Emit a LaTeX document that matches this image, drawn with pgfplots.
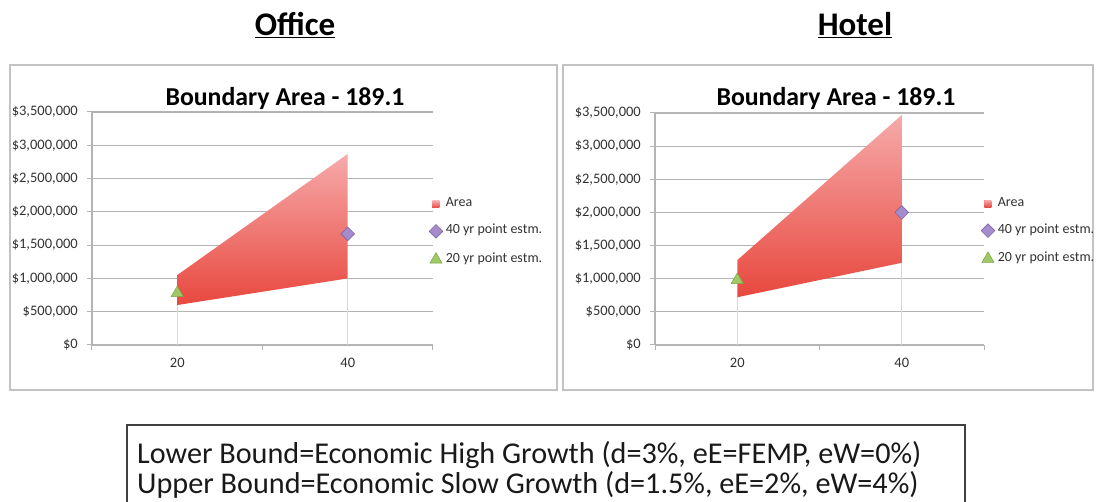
\documentclass[border=0pt]{standalone}
\usepackage{pgfplots}
\pgfplotsset{compat=1.18}
\usepackage{fontspec}
\setmainfont{Carlito}
\definecolor{gridc}{RGB}{180,180,180}
\definecolor{framec}{RGB}{195,195,195}
\definecolor{dropc}{RGB}{215,215,215}
\definecolor{areatop}{RGB}{246,170,170}
\definecolor{areabot}{RGB}{232,72,62}
\definecolor{purp}{RGB}{165,140,205}
\definecolor{purpd}{RGB}{128,100,162}
\definecolor{grn}{RGB}{160,200,100}
\definecolor{grnd}{RGB}{120,165,70}
\definecolor{txt}{RGB}{50,50,50}
\pgfplotsset{
  bac/.style={
    scale only axis,
    xmin=10, xmax=50, ymin=0, ymax=3500000,
    xtick={20,40}, xticklabels={20,40},
    minor xtick={10,30,50},
    ytick={0,500000,1000000,1500000,2000000,2500000,3000000,3500000},
    yticklabels={{\$0},{\$500,000},{\$1,000,000},{\$1,500,000},{\$2,000,000},{\$2,500,000},{\$3,000,000},{\$3,500,000}},
    scaled y ticks=false,
    axis x line*=bottom, axis y line*=left,
    axis line style={gridc, line width=1.2pt, -},
    tick align=outside,
    major x tick style={draw=none},
    minor x tick style={gridc, line width=1pt},
    major y tick style={gridc, line width=1pt},
    major tick length=5pt, minor tick length=5pt,
    ymajorgrids,
    major grid style={gridc, line width=1.2pt},
    tick label style={font=\fontsize{14.5}{14.5}\selectfont, text=txt},
    yticklabel style={inner sep=0pt, xshift=-9pt},
    xticklabel style={inner sep=0pt, yshift=-8pt},
    legend style={draw=none, fill=none, font=\fontsize{14}{14}\selectfont, text=txt,
      row sep=14.5pt, inner sep=0pt,
      nodes={inner sep=1pt, text height=0.72em, text depth=0.22em},
      /tikz/every odd column/.append style={column sep=2pt}},
    legend cell align=left,
    legend image code/.code={\draw[##1] plot coordinates {(0pt,0pt)};},
  },
  areast/.style={draw=none, top color=areatop, bottom color=areabot,
    legend image code/.code={\fill[areabot!90!white] (-3.5pt,-3.5pt) rectangle (3.5pt,3.5pt);}},
  diast/.style={only marks, mark=square*, mark size=4.8pt, mark options={rotate=45, fill=purp, draw=purpd, line width=0.6pt}},
  trist/.style={only marks, mark=triangle*, mark size=7pt, mark options={fill=grn, draw=grnd, line width=0.5pt}},
}
\begin{document}
\begin{tikzpicture}
% frames
\draw[framec, line width=1.5pt] (10pt,112pt) rectangle (557pt,437pt);
\draw[framec, line width=1.5pt] (563pt,112pt) rectangle (1093pt,437pt);
% headers
\node[font=\fontsize{33}{33}\selectfont\bfseries] at (295pt,477pt) {\underline{Office}};
\node[font=\fontsize{33}{33}\selectfont\bfseries] at (855pt,477pt) {\underline{Hotel}};
% titles
\node[font=\fontsize{25.8}{25.8}\selectfont\bfseries] at (285pt,404pt) {Boundary Area - 189.1};
\node[font=\fontsize{25.8}{25.8}\selectfont\bfseries] at (836pt,404pt) {Boundary Area - 189.1};

\begin{axis}[bac, at={(92pt,157pt)}, anchor=south west, width=341pt, height=233pt,
  legend style={at={(1,0.485)}, anchor=west, xshift=-4pt}]
\addplot[dropc, line width=0.6pt, forget plot] coordinates {(20,0) (20,600000)};
\addplot[dropc, line width=0.6pt, forget plot] coordinates {(40,0) (40,1000000)};
\addplot[areast] coordinates {(20,600000) (40,1000000) (40,2870000) (20,1050000)} -- cycle;
\addplot[diast] coordinates {(40,1670000)};
\addplot[trist] coordinates {(20,780000)};
\legend{Area,40 yr point estm.,20 yr point estm.}
\end{axis}

\begin{axis}[bac, at={(655pt,157pt)}, anchor=south west, width=329pt, height=232pt,
  legend style={at={(1,0.49)}, anchor=west, xshift=-3pt}]
\addplot[dropc, line width=0.6pt, forget plot] coordinates {(20,0) (20,720000)};
\addplot[dropc, line width=0.6pt, forget plot] coordinates {(40,0) (40,1240000)};
\addplot[areast] coordinates {(20,720000) (40,1240000) (40,3470000) (20,1280000)} -- cycle;
\addplot[diast] coordinates {(40,2000000)};
\addplot[trist] coordinates {(20,980000)};
\legend{Area,40 yr point estm.,20 yr point estm.}
\end{axis}

% bottom text box
\draw[black!75, line width=1.3pt] (127pt,0pt) |- (965pt,77pt) -- (965pt,0pt);
\node[anchor=base west, inner sep=0pt, font=\fontsize{30.2}{30.2}\selectfont, text=black!90] at (137pt,38pt) {Lower Bound=Economic High Growth (d=3\%, eE=FEMP, eW=0\%)};
\node[anchor=base west, inner sep=0pt, font=\fontsize{30.2}{30.2}\selectfont, text=black!90] at (137pt,8pt) {Upper Bound=Economic Slow Growth (d=1.5\%, eE=2\%, eW=4\%)};

\pgfresetboundingbox
\path[use as bounding box] (0pt,0pt) rectangle (1096pt,502pt);
\end{tikzpicture}
\end{document}
